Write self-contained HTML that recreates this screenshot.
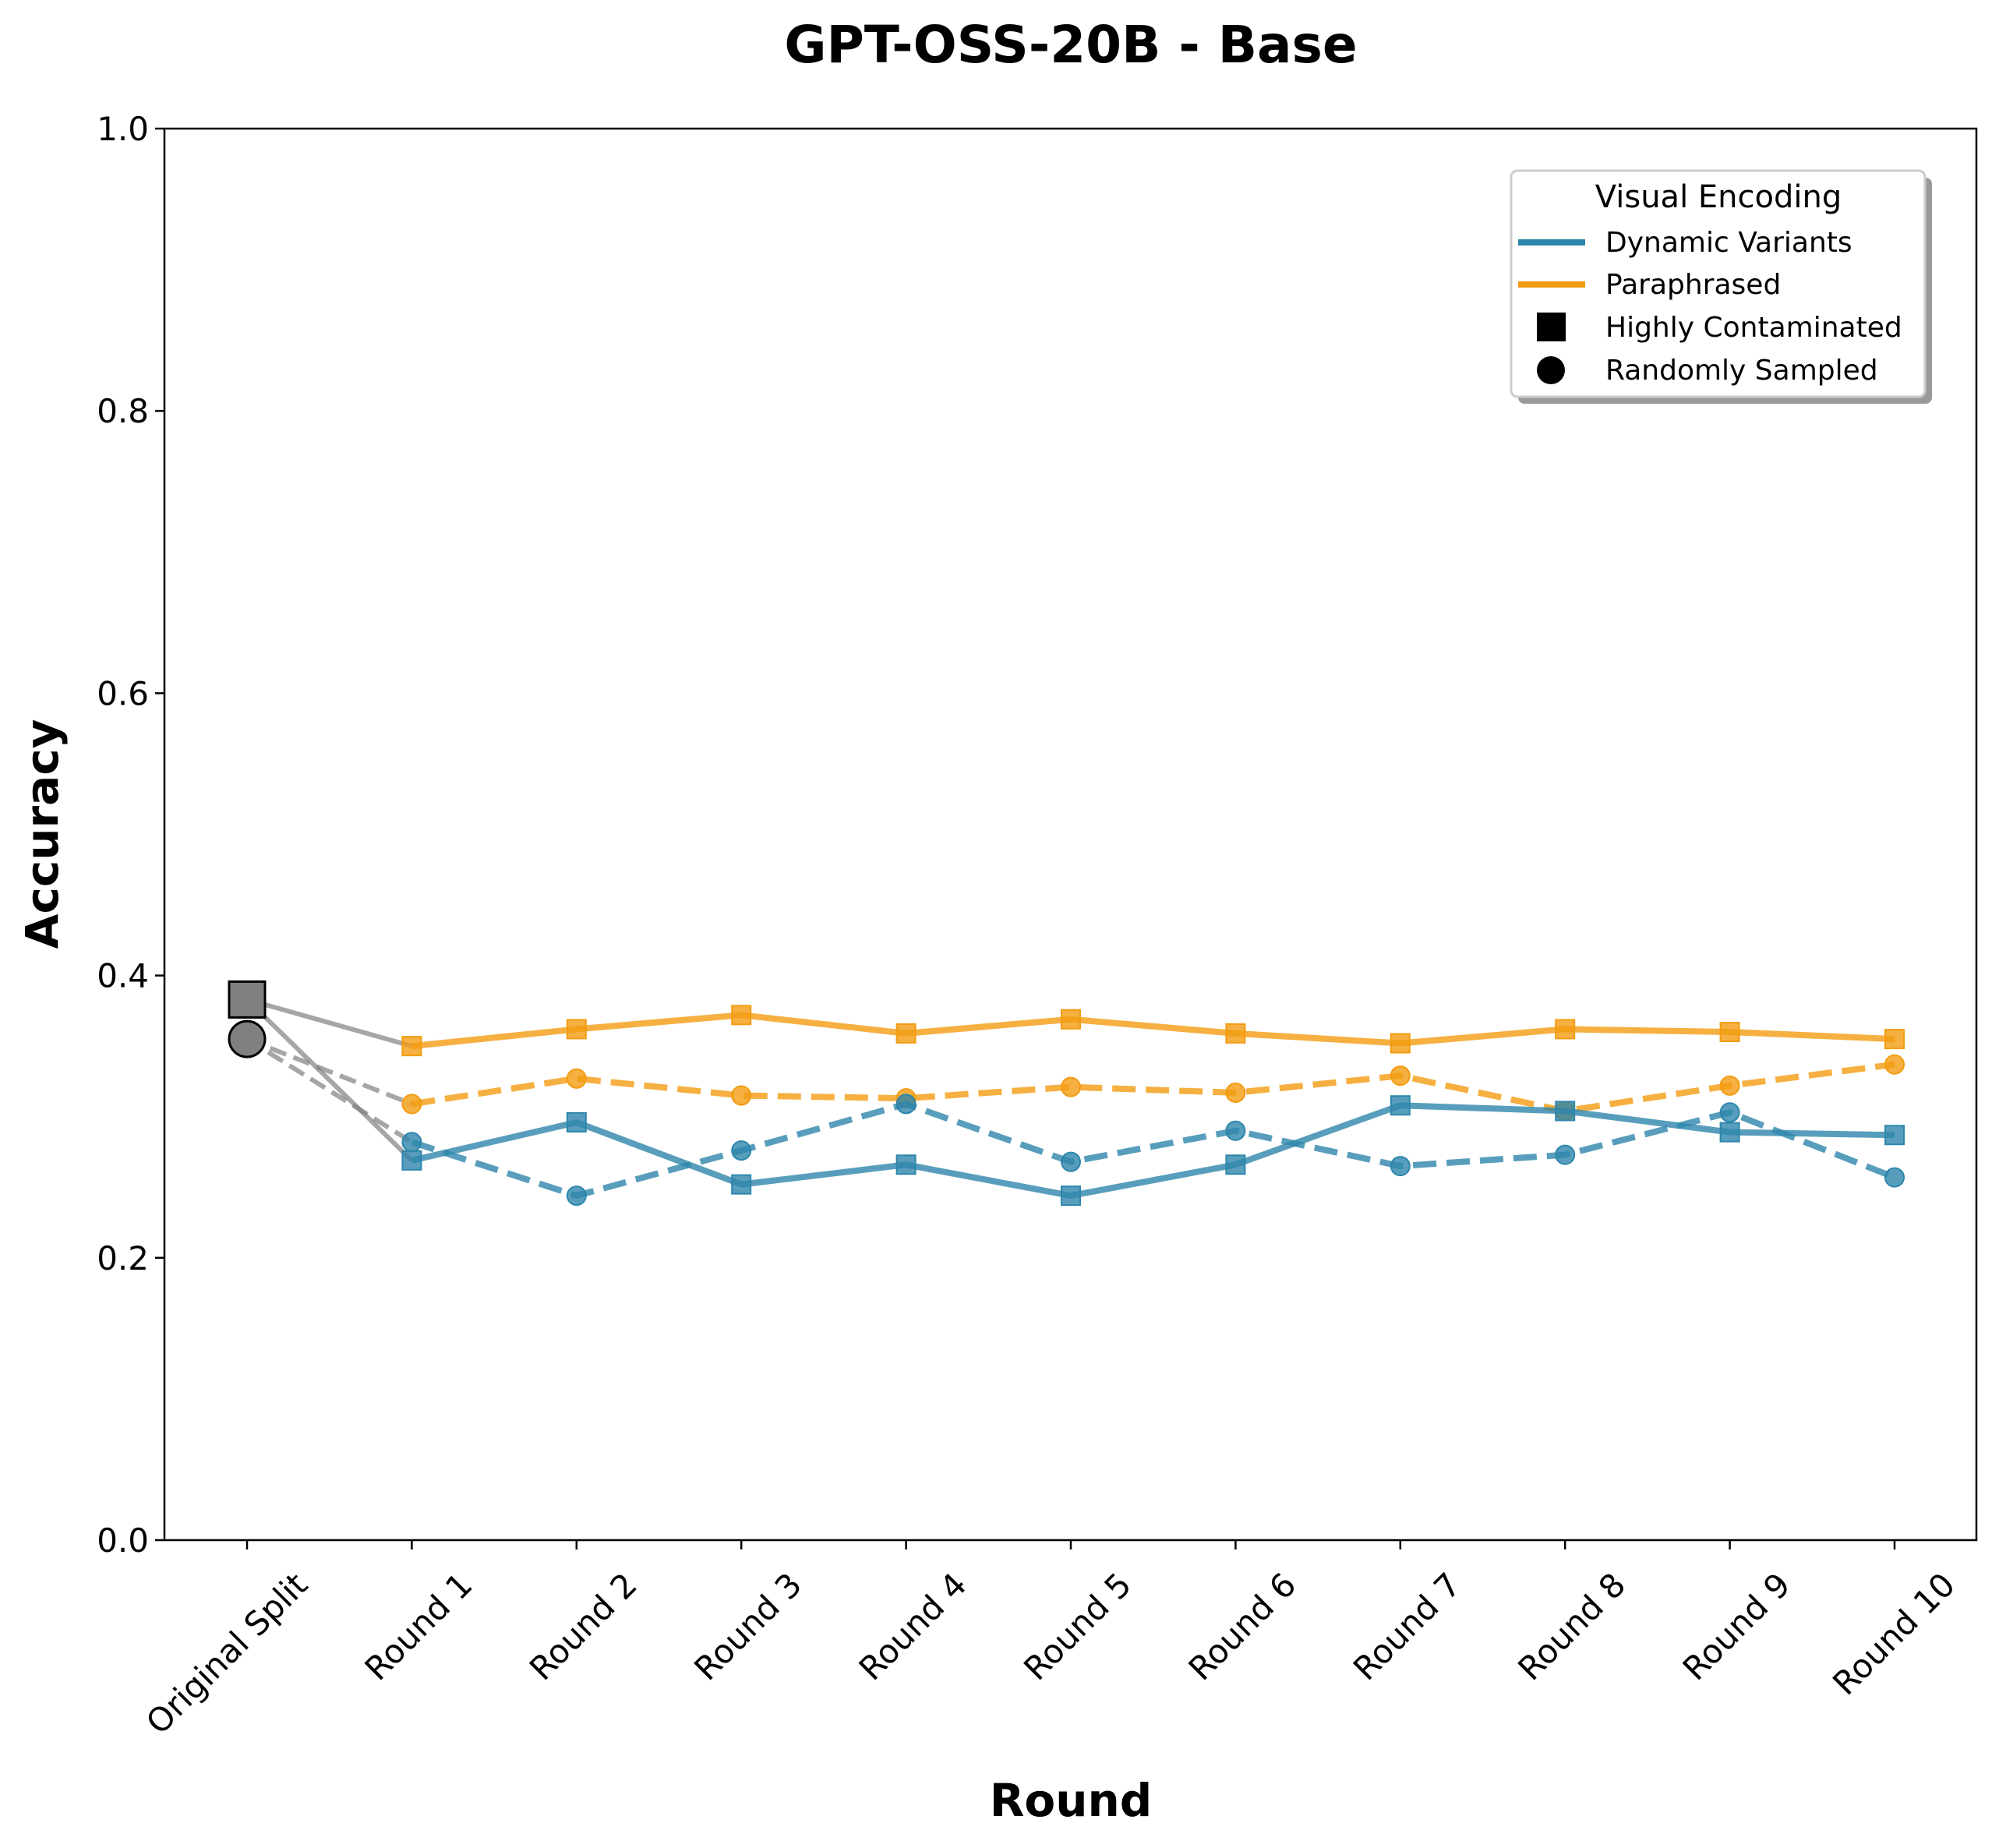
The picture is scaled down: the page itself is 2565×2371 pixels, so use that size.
<!DOCTYPE html>
<html><head><meta charset="utf-8">
<style>
html,body{margin:0;padding:0;background:#fff;}
svg{display:block;font-family:"DejaVu Sans","Liberation Sans",sans-serif;}
</style></head>
<body>
<svg id="chart" width="2565" height="2371" viewBox="0 0 2565 2371" xmlns="http://www.w3.org/2000/svg">
<rect x="0" y="0" width="2565" height="2371" fill="#fff"/>
<text x="1374" y="80" font-size="66" font-weight="bold" text-anchor="middle">GPT-OSS-20B - Base</text>
<g id="plot"></g>
<text x="74" y="1070" font-size="58" font-weight="bold" text-anchor="middle" transform="rotate(-90 74 1070)">Accuracy</text>
<text x="1374" y="2330" font-size="58" font-weight="bold" text-anchor="middle">Round</text>
<g>
<rect x="1948" y="228" width="531" height="290" rx="8" fill="#999"/>
<rect x="1939" y="219" width="531" height="290" rx="8" fill="#fff" stroke="#ccc" stroke-width="3"/>
<text x="2205" y="266" font-size="40" text-anchor="middle">Visual Encoding</text>
<line x1="1948" y1="311" x2="2034" y2="311" stroke="#2E86AB" stroke-width="8"/>
<text x="2060" y="323" font-size="36">Dynamic Variants</text>
<line x1="1948" y1="365" x2="2034" y2="365" stroke="#F39C12" stroke-width="8"/>
<text x="2060" y="377" font-size="36">Paraphrased</text>
<rect x="1972" y="401" width="37" height="37" fill="#000"/>
<text x="2060" y="432" font-size="36">Highly Contaminated</text>
<circle cx="1990" cy="475" r="18" fill="#000"/>
<text x="2060" y="487" font-size="36">Randomly Sampled</text>
</g>
</svg>
<script>
const categories = ["Original Split","Round 1","Round 2","Round 3","Round 4","Round 5","Round 6","Round 7","Round 8","Round 9","Round 10"];
const origHC = 0.383;
const origRS = 0.355;
const dynHC = [0.269,0.296,0.252,0.266,0.244,0.266,0.308,0.304,0.289,0.287];
const dynRS = [0.282,0.244,0.276,0.309,0.268,0.290,0.265,0.273,0.303,0.257];
const paraHC = [0.350,0.362,0.372,0.359,0.369,0.359,0.352,0.362,0.360,0.355];
const paraRS = [0.309,0.327,0.315,0.313,0.321,0.317,0.329,0.304,0.322,0.337];
const yTicks = [0,0.2,0.4,0.6,0.8,1.0];
const yTickLabels = ["0.0","0.2","0.4","0.6","0.8","1.0"];

const NS = "http://www.w3.org/2000/svg";
const L = 211, R = 2536, T = 165, B = 1976;
const x0 = 317, step = 211.4;
const xs = i => x0 + i * step;
const ys = v => B - v * (B - T);
const plot = document.getElementById('plot');
function mk(tag, attrs){ const e = document.createElementNS(NS, tag); for (const k in attrs) e.setAttribute(k, attrs[k]); plot.appendChild(e); return e; }

let e = mk('rect', {x:L, y:T, width:R-L, height:B-T, fill:'none', stroke:'#000', 'stroke-width':2.5});



yTicks.forEach((t, i) => {
  let tk = mk('line', {x1:L-12, y1:ys(t), x2:L, y2:ys(t), stroke:'#000', 'stroke-width':2.5});
  
  
  let lb = mk('text', {x:L-20, y:ys(t)+15, 'font-size':42, 'text-anchor':'end'});
  lb.textContent = yTickLabels[i];
  
  
});
categories.forEach((c, i) => {
  let tk = mk('line', {x1:xs(i), y1:B, x2:xs(i), y2:B+12, stroke:'#000', 'stroke-width':2.5});
  
  
  const tx = xs(i) + 80, ty = B + 60;
  let lb = mk('text', {x:tx, y:ty, 'font-size':42, 'text-anchor':'end', transform:`rotate(-45 ${tx} ${ty})`});
  lb.textContent = c;
  
  
});

function gray(v0, v1, dashed){
  let g = mk('line', {x1:xs(0), y1:ys(v0), x2:xs(1), y2:ys(v1), stroke:'#808080', 'stroke-opacity':0.7, 'stroke-width':6, 'stroke-dasharray': dashed ? '22,10' : 'none'});
  
  
}
gray(origHC, dynHC[0], false);
gray(origHC, paraHC[0], false);
gray(origRS, dynRS[0], true);
gray(origRS, paraRS[0], true);

function series(vals, color, dashed, marker, name){
  const pts = vals.map((v, i) => `${xs(i+1)},${ys(v)}`).join(' ');
  let p = mk('polyline', {points:pts, fill:'none', stroke:color, 'stroke-opacity':0.8, 'stroke-width':8, 'stroke-dasharray': dashed ? '30,13' : 'none', 'stroke-linejoin':'round'});
  
  
  vals.forEach((v, i) => {
    let m;
    if (marker === 'square') m = mk('rect', {x:xs(i+1)-12, y:ys(v)-12, width:24, height:24, fill:color, 'fill-opacity':0.8, stroke:color, 'stroke-width':2});
    else m = mk('circle', {cx:xs(i+1), cy:ys(v), r:12, fill:color, 'fill-opacity':0.8, stroke:color, 'stroke-width':2});
    
    
  });
}
series(paraHC, '#F39C12', false, 'square', 'paraphrased-highly-contaminated');
series(paraRS, '#F39C12', true, 'circle', 'paraphrased-randomly-sampled');
series(dynHC, '#2E86AB', false, 'square', 'dynamic-highly-contaminated');
series(dynRS, '#2E86AB', true, 'circle', 'dynamic-randomly-sampled');

let oc = mk('circle', {cx:xs(0), cy:ys(origRS), r:23, fill:'#808080', stroke:'#000', 'stroke-width':3});


let os = mk('rect', {x:xs(0)-23, y:ys(origHC)-23, width:46, height:46, fill:'#808080', stroke:'#000', 'stroke-width':3});


</script>
</body></html>
